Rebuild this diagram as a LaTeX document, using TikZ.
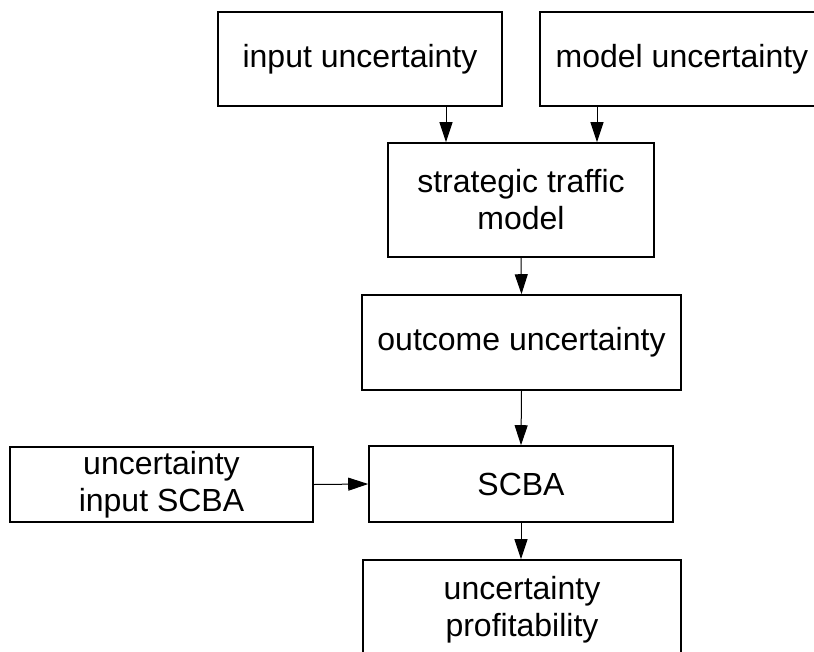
\documentclass[tikz,border=0pt]{standalone}
\usepackage{fontspec}
\setmainfont{Liberation Sans}
\usepackage{tikz}
\usetikzlibrary{calc,arrows.meta}
\tikzset{
  box/.style={draw=black, line width=1.6pt, inner sep=0pt, align=center,
    font=\fontsize{32}{37}\selectfont},
  arr/.style={draw=black, line width=1pt, -{Triangle[length=20pt,width=13pt]}},
}

\begin{document}
\begin{tikzpicture}[x=1pt,y=-1pt]
  \clip (0,0) rectangle (814,651);
  \fill[white] (0,0) rectangle (814,651);

  % upper row
  \node[box, minimum width=284pt, minimum height=94pt] (inp) at (360,59) {input uncertainty};
  \node[box, minimum width=284pt, minimum height=94pt] (mod) at (682,59) {model uncertainty};

  % main column
  \node[box, minimum width=266pt, minimum height=114pt] (stm) at (521,200) {strategic traffic\\model};
  \node[box, minimum width=319pt, minimum height=95pt] (out) at (521.5,342.5) {outcome uncertainty};
  \node[box, minimum width=304pt, minimum height=76pt] (scba) at (521,484) {SCBA};
  \node[box, minimum width=303pt, minimum height=75pt] (isc) at (161.5,484.5) {uncertainty\\input SCBA};
  \node[box, minimum width=318pt, minimum height=100pt] (prof) at (522,610) {uncertainty\\profitability};

  % connectors
  \coordinate (tin) at ([xshift=-75pt]stm.north);
  \coordinate (tmod) at ([xshift=76pt]stm.north);
  \draw[arr] (tin |- inp.south) -- (tin);
  \draw[arr] (tmod |- mod.south) -- (tmod);
  \draw[arr] (stm.south) -- (out.north);
  \draw[arr] (out.south) -- (scba.north);
  \draw[arr] (isc.east) -- (scba.west);
  \draw[arr] (scba.south) -- (scba.south |- prof.north);
\end{tikzpicture}
\end{document}
